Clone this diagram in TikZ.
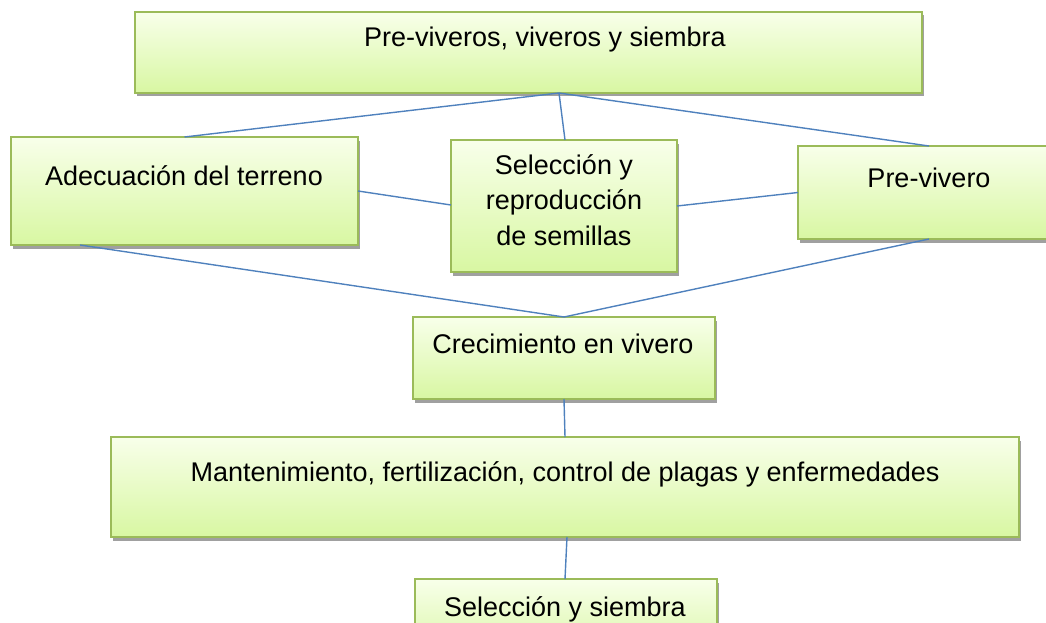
\documentclass[tikz,border=0pt]{standalone}
\usepackage{fontspec}
\setmainfont{Liberation Sans}
\usetikzlibrary{shadows,calc}
\definecolor{boxborder}{HTML}{9BBB59}
\definecolor{boxtop}{HTML}{F8FFEA}
\definecolor{boxbot}{HTML}{D8F7A2}
\definecolor{conn}{HTML}{4F81BD}
\definecolor{shad}{HTML}{A0A0A0}
\tikzset{
  greenbox/.style={draw=boxborder, line width=1.8pt, top color=boxtop, bottom color=boxbot,
    inner sep=0pt, outer sep=0pt,
    drop shadow={shadow xshift=2pt, shadow yshift=-3.5pt, fill=shad, opacity=1}},
  lbl/.style={anchor=base, inner sep=0pt, font=\fontsize{27pt}{35.5pt}\selectfont, align=center},
  link/.style={draw=conn, line width=1.4pt}
}
\begin{document}
\begin{tikzpicture}[x=1pt,y=-1pt]
\useasboundingbox (0,0) rectangle (1046,623);
\clip (0,0) rectangle (1046,623);
% boxes
\node[greenbox, minimum width=787pt, minimum height=81pt] (top) at (528.5,52.5) {};
\node[greenbox, minimum width=347pt, minimum height=108pt] (adec) at (184.5,191) {};
\node[greenbox, minimum width=226pt, minimum height=132pt] (sel) at (564,206) {};
\node[greenbox, minimum width=262pt, minimum height=93pt] (prev) at (929,192.5) {};
\node[greenbox, minimum width=302pt, minimum height=82pt] (crec) at (564,358) {};
\node[greenbox, minimum width=908pt, minimum height=100pt] (mant) at (565,487) {};
\node[greenbox, minimum width=302pt, minimum height=82pt] (sys) at (566,620) {};
% texts
\node[lbl] (ttop) at (545,47) {Pre-viveros, viveros y siembra};
\node[lbl] (tadec) at (184,185) {Adecuación del terreno};
\node[lbl, anchor=north] (tsel) at (564,154) {Selección y\\reproducción\\de semillas};
\node[lbl] (tprev) at (929,187) {Pre-vivero};
\node[lbl] (tcrec) at (563,353) {Crecimiento en vivero};
\node[lbl] (tmant) at (565,481) {Mantenimiento, fertilización, control de plagas y enfermedades};
\node[lbl] (tsys) at (565,616) {Selección y siembra};
% connectors
\coordinate (j) at ([xshift=30.5pt]top.south);
\draw[link] (j) -- (adec.north);
\draw[link] (j) -- ([xshift=1pt]sel.north);
\draw[link] (j) -- (prev.north);
\draw[link] (adec.east) -- ([yshift=1pt]sel.west);
\draw[link] (sel.east) -- (prev.west);
\draw[link] ([xshift=-104.5pt]adec.south) -- (crec.north);
\draw[link] (prev.south) -- (crec.north);
\draw[link] (crec.south) -- (mant.north);
\draw[link] ([xshift=2pt]mant.south) -- ([xshift=-1pt]sys.north);
\end{tikzpicture}
\end{document}
